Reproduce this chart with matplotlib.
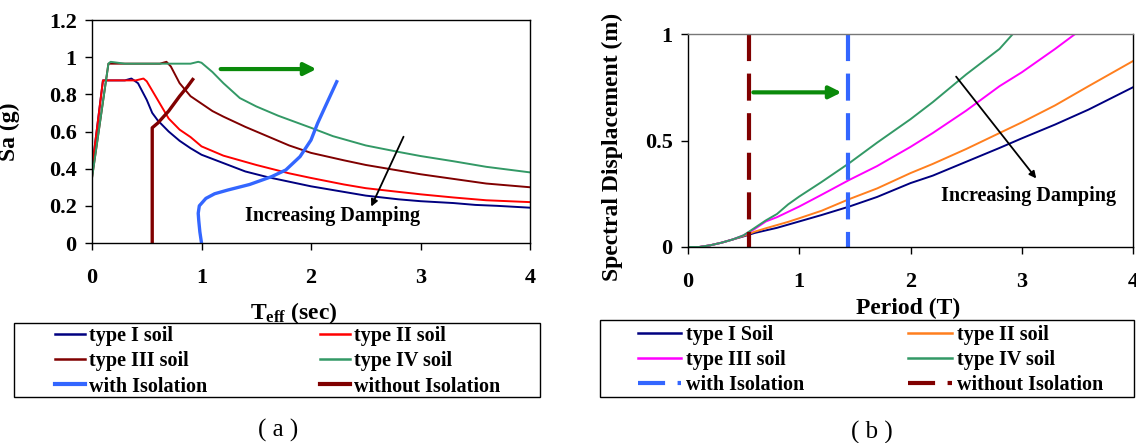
import matplotlib
matplotlib.use("Agg")
import matplotlib.pyplot as plt
from matplotlib.lines import Line2D
from matplotlib.patches import Rectangle

plt.rcParams["font.family"] = ["Liberation Serif", "DejaVu Serif"]
plt.rcParams["font.weight"] = "bold"
plt.rcParams["axes.labelweight"] = "bold"
plt.rcParams["mathtext.fontset"] = "custom"
plt.rcParams["mathtext.rm"] = "Liberation Serif:bold"
plt.rcParams["mathtext.bf"] = "Liberation Serif:bold"
plt.rcParams["mathtext.it"] = "Liberation Serif:bold"

# ── panel (a): acceleration spectra, Sa (g) vs T_eff (sec) ───────────────────
t1 = [0, 0.1, 0.2, 0.3, 0.36, 0.42, 0.5, 0.55, 0.6, 0.7, 0.8, 0.9, 1.0, 1.2,
      1.4, 1.6, 1.8, 2.0, 2.2, 2.5, 2.8, 3.0, 3.3, 3.5, 3.7, 4.0]
sa1 = [0.40, 0.875, 0.875, 0.875, 0.885, 0.86, 0.77, 0.70, 0.66, 0.60, 0.55, 0.51,
       0.475, 0.43, 0.385, 0.355, 0.33, 0.305, 0.285, 0.255, 0.235, 0.225, 0.215,
       0.205, 0.20, 0.19]

t2 = [0, 0.1, 0.2, 0.3, 0.4, 0.47, 0.5, 0.55, 0.6, 0.7, 0.8, 0.9, 1.0, 1.2, 1.5,
      1.8, 2.0, 2.3, 2.5, 2.8, 3.0, 3.3, 3.6, 4.0]
sa2 = [0.40, 0.875, 0.875, 0.875, 0.875, 0.885, 0.87, 0.82, 0.77, 0.67, 0.61, 0.57,
       0.52, 0.47, 0.42, 0.375, 0.35, 0.315, 0.295, 0.275, 0.262, 0.245, 0.23, 0.22]

t3 = [0, 0.15, 0.3, 0.5, 0.62, 0.68, 0.72, 0.8, 0.9, 1.0, 1.1, 1.2, 1.4, 1.6, 1.8,
      2.0, 2.3, 2.5, 2.8, 3.0, 3.3, 3.6, 3.8, 4.0]
sa3 = [0.35, 0.965, 0.965, 0.965, 0.965, 0.975, 0.95, 0.86, 0.79, 0.75, 0.71, 0.68,
       0.625, 0.575, 0.525, 0.485, 0.445, 0.42, 0.39, 0.37, 0.345, 0.32, 0.31, 0.30]

t4 = [0, 0.15, 0.17, 0.3, 0.5, 0.7, 0.9, 0.97, 1.0, 1.1, 1.2, 1.35, 1.5, 1.7, 2.0,
      2.2, 2.5, 2.8, 3.0, 3.3, 3.6, 3.8, 4.0]
sa4 = [0.35, 0.965, 0.975, 0.965, 0.965, 0.965, 0.965, 0.975, 0.97, 0.92, 0.86,
       0.78, 0.735, 0.685, 0.62, 0.575, 0.525, 0.49, 0.468, 0.44, 0.41, 0.395, 0.38]

t_iso = [1.0, 0.985, 0.975, 0.97, 0.98, 1.04, 1.12, 1.24, 1.44, 1.64, 1.77, 1.9,
         2.0, 2.06, 2.13, 2.235]
sa_iso = [0.0, 0.06, 0.12, 0.16, 0.2, 0.24, 0.265, 0.285, 0.315, 0.357, 0.393,
          0.465, 0.554, 0.644, 0.734, 0.868]

t_fix = [0.55, 0.55, 0.6, 0.7, 0.8, 0.87, 0.92]
sa_fix = [0.0, 0.62, 0.645, 0.71, 0.79, 0.84, 0.88]

# ── panel (b): displacement spectra, Sd (m) vs period ────────────────────────
p_lo = [0, 0.1, 0.2, 0.3, 0.4, 0.5, 0.6, 0.7, 0.8, 0.9, 1.0, 1.2, 1.45, 1.7, 2.0,
        2.2, 2.5, 2.8, 3.0, 3.3, 3.6, 4.0]
sd1 = [0, 0, 0.008, 0.02, 0.035, 0.05, 0.066, 0.078, 0.09, 0.105, 0.12, 0.15, 0.19,
       0.235, 0.30, 0.335, 0.40, 0.465, 0.51, 0.575, 0.645, 0.75]
sd2 = [0, 0, 0.008, 0.02, 0.035, 0.052, 0.072, 0.088, 0.103, 0.118, 0.135, 0.17,
       0.225, 0.275, 0.347, 0.39, 0.46, 0.535, 0.585, 0.665, 0.755, 0.873]

p3 = [0, 0.1, 0.2, 0.3, 0.4, 0.5, 0.6, 0.7, 0.8, 0.9, 1.0, 1.2, 1.45, 1.7, 2.0,
      2.2, 2.5, 2.8, 3.0, 3.3, 3.48]
sd3 = [0, 0, 0.008, 0.02, 0.035, 0.055, 0.085, 0.12, 0.14, 0.165, 0.19, 0.245,
       0.315, 0.38, 0.47, 0.535, 0.64, 0.755, 0.82, 0.93, 1.0]

p4 = [0, 0.1, 0.2, 0.3, 0.4, 0.5, 0.6, 0.7, 0.8, 0.9, 1.0, 1.2, 1.45, 1.7, 2.0,
      2.2, 2.5, 2.8, 2.92]
sd4 = [0, 0, 0.008, 0.02, 0.035, 0.055, 0.09, 0.125, 0.155, 0.2, 0.237, 0.305,
       0.394, 0.49, 0.60, 0.68, 0.81, 0.93, 1.0]

period_iso = 1.44
period_fix = 0.548

labels_a = ["type I soil", "type II soil", "type III soil", "type IV soil",
            "with Isolation", "without Isolation"]
labels_b = ["type I Soil", "type II soil", "type III soil", "type IV soil",
            "with Isolation", "without Isolation"]

NAVY, RED, MAROON, SEA = "#000080", "#FF0000", "#800000", "#339966"
BLUE, ORANGE, MAGENTA, ARROWG = "#3366FF", "#FF7F1E", "#FF00FF", "#0A8A0A"

W, H = 1136, 443
fig = plt.figure(figsize=(W / 100, H / 100), dpi=100)


def style_axes(ax):
    for s in ax.spines.values():
        s.set_linewidth(1.0)
        s.set_color("black")
    ax.tick_params(direction="out", length=5, width=1, labelsize=16)
    ax.tick_params(axis="x", pad=13)
    ax.tick_params(axis="y", pad=6)
    ax.tick_params(top=False, right=False)


# ── (a) ──────────────────────────────────────────────────────────────────────
ax1 = fig.add_axes([92 / W, 1 - 243 / H, 438 / W, 223 / H])
ax1.plot(t1, sa1, color=NAVY, lw=1.4)
ax1.plot(t2, sa2, color=RED, lw=1.4)
ax1.plot(t3, sa3, color=MAROON, lw=1.4)
ax1.plot(t4, sa4, color=SEA, lw=1.4)
ax1.plot(t_iso, sa_iso, color=BLUE, lw=2.4)
ax1.plot(t_fix, sa_fix, color=MAROON, lw=2.4)
ax1.set_xlim(0, 4)
ax1.set_ylim(0, 1.2)
ax1.set_xticks([0, 1, 2, 3, 4])
ax1.set_xticklabels(["0", "1", "2", "3", "4"])
ax1.set_yticks([0, 0.2, 0.4, 0.6, 0.8, 1.0, 1.2])
ax1.set_yticklabels(["0", "0.2", "0.4", "0.6", "0.8", "1", "1.2"])
style_axes(ax1)
ax1.set_ylabel("Sa (g)", fontsize=17, fontweight="bold")
ax1.yaxis.set_label_coords(-0.164, 0.5)
ax1.set_xlabel(r"T$_{\mathbf{eff}}$ (sec)", fontsize=17, fontweight="bold")
ax1.xaxis.set_label_coords(0.461, -0.256)

ax1.annotate("", xy=(2.05, 0.936), xytext=(1.175, 0.936),
             arrowprops=dict(arrowstyle="-|>", color=ARROWG, lw=3,
                             mutation_scale=18, shrinkA=0, shrinkB=0))
ax1.annotate("", xy=(2.55, 0.196), xytext=(2.845, 0.572),
             arrowprops=dict(arrowstyle="-|>", color="black", lw=1.3,
                             mutation_scale=10, shrinkA=0, shrinkB=0))
ax1.text(2.2, 0.145, "Increasing Damping", fontsize=14.5, ha="center", va="center")

# ── (b) ──────────────────────────────────────────────────────────────────────
ax2 = fig.add_axes([688 / W, 1 - 247 / H, 445 / W, 213 / H])
ax2.plot(p_lo, sd1, color=NAVY, lw=1.4)
ax2.plot(p_lo, sd2, color=ORANGE, lw=1.4)
ax2.plot(p3, sd3, color=MAGENTA, lw=1.4)
ax2.plot(p4, sd4, color=SEA, lw=1.4)
ax2.plot([period_iso, period_iso], [1, 0], color=BLUE, lw=3, dashes=(6.5, 3))
ax2.plot([period_fix, period_fix], [1, 0], color=MAROON, lw=3, dashes=(6.5, 3))
ax2.set_xlim(0, 4)
ax2.set_ylim(0, 1)
ax2.set_xticks([0, 1, 2, 3, 4])
ax2.set_xticklabels(["0", "1", "2", "3", "4"])
ax2.set_yticks([0, 0.5, 1.0])
ax2.set_yticklabels(["0", "0.5", "1"])
style_axes(ax2)
ax2.spines["top"].set_color("#777777")
ax2.set_ylabel("Spectral Displacement (m)", fontsize=17, fontweight="bold")
ax2.yaxis.set_label_coords(-0.146, 0.47)
ax2.set_xlabel("Period (T)", fontsize=17, fontweight="bold")
ax2.xaxis.set_label_coords(0.494, -0.239)

ax2.annotate("", xy=(1.38, 0.726), xytext=(0.587, 0.726),
             arrowprops=dict(arrowstyle="-|>", color=ARROWG, lw=3,
                             mutation_scale=18, shrinkA=0, shrinkB=0))
ax2.annotate("", xy=(3.13, 0.322), xytext=(2.41, 0.80),
             arrowprops=dict(arrowstyle="-|>", color="black", lw=1.3,
                             mutation_scale=10, shrinkA=0, shrinkB=0))
ax2.text(3.06, 0.24, "Increasing Damping", fontsize=14.5, ha="center", va="center")

# ── legends (framed boxes drawn separately, content centred inside) ─────────
fig.add_artist(Rectangle((14 / W, 1 - 397 / H), 526 / W, 74 / H,
                         transform=fig.transFigure, fill=False,
                         edgecolor="black", lw=1.0))
fig.add_artist(Rectangle((600 / W, 1 - 397 / H), 534 / W, 77 / H,
                         transform=fig.transFigure, fill=False,
                         edgecolor="black", lw=1.0))

ha = [Line2D([], [], color=NAVY, lw=1.8), Line2D([], [], color=MAROON, lw=1.8),
      Line2D([], [], color=BLUE, lw=3), Line2D([], [], color=RED, lw=1.8),
      Line2D([], [], color=SEA, lw=1.8), Line2D([], [], color=MAROON, lw=3)]
fig.legend(ha, [labels_a[i] for i in (0, 2, 4, 1, 3, 5)], ncol=2, mode="expand",
           loc="center", bbox_to_anchor=(55 / W, 0.104, 445 / W, 0.16),
           frameon=False, borderpad=0, borderaxespad=0, fontsize=14.5,
           handlelength=1.5, handletextpad=0.2, labelspacing=0.25)

hb = [Line2D([], [], color=NAVY, lw=1.8), Line2D([], [], color=MAGENTA, lw=1.8),
      Line2D([], [], color=BLUE, lw=3, dashes=(6.5, 3)),
      Line2D([], [], color=ORANGE, lw=1.8), Line2D([], [], color=SEA, lw=1.8),
      Line2D([], [], color=MAROON, lw=3, dashes=(6.5, 3))]
fig.legend(hb, [labels_b[i] for i in (0, 2, 4, 1, 3, 5)], ncol=2, mode="expand",
           loc="center", bbox_to_anchor=(638 / W, 0.107, 465 / W, 0.16),
           frameon=False, borderpad=0, borderaxespad=0, fontsize=14.5,
           handlelength=2.15, handletextpad=0.25, labelspacing=0.25)

fig.text(278 / W, 1 - 430 / H, "( a )", fontsize=18, fontweight="normal",
         ha="center", va="center")
fig.text(872 / W, 1 - 432 / H, "( b )", fontsize=18, fontweight="normal",
         ha="center", va="center")

fig.savefig("out.png", dpi=100)
